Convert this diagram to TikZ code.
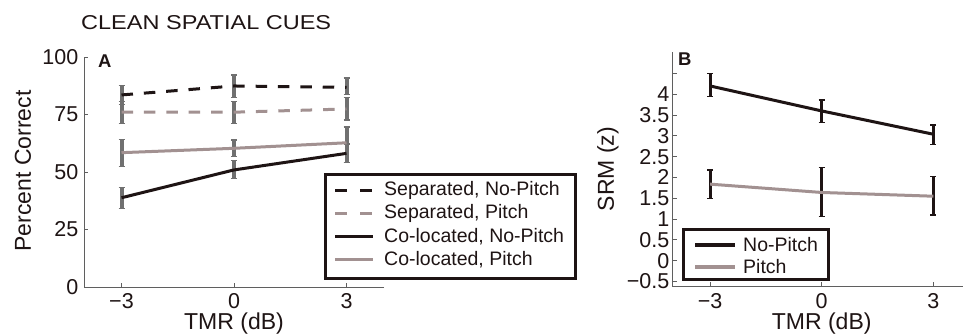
\documentclass[tikz,border=0pt]{standalone}
\usepackage{fontspec}
\usepackage{graphicx}
\setmainfont{Liberation Sans}
\definecolor{ink}{RGB}{30,20,20}
\definecolor{pgray}{RGB}{162,145,145}
\definecolor{egray}{RGB}{112,112,112}
\definecolor{axgray}{RGB}{95,95,95}
\newcommand\myebar[4]{%
  \draw[#1] (#2,#3) -- (#2,#4);
  \draw[#1,line width=1.4pt] ([xshift=-3pt]#2,#3) -- ([xshift=3pt]#2,#3);
  \draw[#1,line width=1.4pt] ([xshift=-3pt]#2,#4) -- ([xshift=3pt]#2,#4);
}
\tikzset{
  axisline/.style={draw=axgray, line width=0.9pt},
  tickmark/.style={draw=axgray, line width=0.9pt},
  ticklab/.style={font=\fontsize{21.5}{24}\selectfont, inner sep=0pt, text=ink},
  axlab/.style={font=\fontsize{23}{26}\selectfont, inner sep=0pt, text=ink},
  leglab/.style={font=\fontsize{19.5}{22}\selectfont, inner sep=0pt, anchor=west, text=ink},
  panlab/.style={inner sep=0pt, anchor=west, text=ink},
  dataline/.style={line width=3pt, line join=round},
  sepnp/.style={dataline, draw=ink, dash pattern=on 11.5pt off 10.9pt},
  sepp/.style={dataline, draw=pgray, dash pattern=on 11.5pt off 10.9pt},
  colnp/.style={dataline, draw=ink},
  colp/.style={dataline, draw=pgray},
  ebarA/.style={draw=egray, line width=4pt},
  ebarB/.style={draw=ink, line width=3.2pt},
  legbox/.style={draw=ink, line width=3pt},
  legsample/.style={line width=3.5pt},
}
\begin{document}
\begin{tikzpicture}[x=1pt,y=1pt]
\useasboundingbox (0,0) rectangle (963,336);
\fill[white] (0,0) rectangle (963,336);

\node[anchor=base west, inner sep=0pt, text=ink] (title) at (81,306)
  {\resizebox{250pt}{14pt}{\fontsize{20}{24}\selectfont CLEAN SPATIAL CUES}};

% ---------------- Panel A ----------------
\begin{scope}[shift={(234pt,49pt)}, x=37.5pt, y=2.3pt]
  \draw[axisline] (4,0) -- (-4,0) -- (-4,100);
  \foreach \v in {0,25,50,75,100} {
    \draw[tickmark] (-4,\v) -- ([xshift=4pt]-4,\v);
    \node[ticklab, anchor=east] (ya\v) at ([xshift=-5.5pt]-4,\v) {\v};
  }
  \foreach \u/\t in {-3/{−3},0/0,3/3} {
    \draw[tickmark] (\u,0) -- ([yshift=4pt]\u,0);
    \node[ticklab] (xa\u) at ([yshift=-14.5pt]\u,0) {\t};
  }
  \node[axlab, anchor=base] (xlabA) at ([yshift=-43pt]0,0) {TMR (dB)};
  \node[axlab, rotate=90] (ylabA) at ([xshift=-211pt]0,50.5) {Percent Correct};
  \node[panlab] (labA) at ([xshift=14pt]-4,98) {\resizebox{!}{12.7pt}{\bfseries A}};

  % error bars
  \myebar{ebarA}{-3}{79.3}{87.7}
  \myebar{ebarA}{0}{82.4}{92.2}
  \myebar{ebarA}{3}{83.6}{90.8}
  \myebar{ebarA}{-3}{71.2}{80.6}
  \myebar{ebarA}{0}{71.2}{80.6}
  \myebar{ebarA}{3}{72.6}{82.4}
  \myebar{ebarA}{-3}{52.4}{64.2}
  \myebar{ebarA}{0}{56.7}{63.9}
  \myebar{ebarA}{3}{54.0}{69.5}
  \myebar{ebarA}{-3}{34.2}{43.3}
  \myebar{ebarA}{0}{47.1}{55.0}
  \myebar{ebarA}{3}{54.0}{62.2}

  % data
  \draw[sepp]  (-3,76.0) coordinate (sp1) -- (0,76.0) coordinate (sp2) -- (3,77.4) coordinate (sp3);
  \draw[sepnp] (-3,83.5) coordinate (sn1) -- (0,87.4) coordinate (sn2) -- (3,86.8) coordinate (sn3);
  \draw[colp]  (-3,58.4) coordinate (cp1) -- (0,60.3) coordinate (cp2) -- (3,62.7) coordinate (cp3);
  \draw[colnp] (-3,38.8) coordinate (cn1) -- (0,50.9) coordinate (cn2) -- (3,58.1) coordinate (cn3);
\end{scope}

% legend A
\draw[legbox, fill=white] (325,161) rectangle (575.7,57.7);
\draw[legsample, draw=ink, dash pattern=on 12pt off 13pt] (335,145.3) -- (373,145.3);
\node[leglab] (lA1) at (384,145.3) {Separated, No-Pitch};
\draw[legsample, draw=pgray, dash pattern=on 12pt off 13pt] (335,122.7) -- (373,122.7);
\node[leglab] (lA2) at (384,122.7) {Separated, Pitch};
\draw[legsample, draw=ink] (335,99.3) -- (373,99.3);
\node[leglab] (lA3) at (384,99.3) {Co-located, No-Pitch};
\draw[legsample, draw=pgray] (335,76.7) -- (373,76.7);
\node[leglab] (lA4) at (384,76.7) {Co-located, Pitch};

% ---------------- Panel B ----------------
\begin{scope}[shift={(821.7pt,75.3pt)}, x=37.2pt, y=41.6pt]
  \draw[axisline] (3.81,-0.62) -- (-4,-0.62) -- (-4,5.02);
  \foreach \v/\t in {-0.5/{−0.5},0/0,0.5/0.5,1/1,1.5/1.5,2/2,2.5/2.5,3/3,3.5/3.5,4/4} {
    \draw[tickmark] (-4,\v) -- ([xshift=4pt]-4,\v);
    \node[ticklab, anchor=east] at ([xshift=-3.5pt]-4,\v) {\t};
  }
  \draw[tickmark] (-4,4.5) -- ([xshift=4pt]-4,4.5);
  \foreach \u/\t in {-3/{−3},0/0,3/3} {
    \draw[tickmark] (\u,-0.62) -- ([yshift=4pt]\u,-0.62);
    \node[ticklab] (xb\u) at ([yshift=-14.8pt]\u,-0.62) {\t};
  }
  \node[axlab, anchor=base] (xlabB) at ([yshift=-43.3pt]0,-0.62) {TMR (dB)};
  \node[axlab, rotate=90] (ylabB) at ([xshift=-213.7pt]0,2.2) {SRM (z)};
  \node[panlab] (labB) at ([xshift=5pt]-4,4.85) {\resizebox{!}{12.7pt}{\bfseries B}};

  \myebar{ebarB}{-3}{3.94}{4.50}
  \myebar{ebarB}{0}{3.32}{3.86}
  \myebar{ebarB}{3}{2.80}{3.26}
  \myebar{ebarB}{-3}{1.50}{2.18}
  \myebar{ebarB}{0}{1.06}{2.24}
  \myebar{ebarB}{3}{1.10}{2.02}

  \draw[colp]  (-3,1.84) coordinate (bp1) -- (0,1.64) coordinate (bp2) -- (3,1.55) coordinate (bp3);
  \draw[colnp] (-3,4.20) coordinate (bn1) -- (0,3.60) coordinate (bn2) -- (3,3.04) coordinate (bn3);
\end{scope}

% legend B
\draw[legbox, fill=white] (683,106) rectangle (828,56.7);
\draw[legsample, draw=ink] (695,91) -- (735,91);
\node[leglab] (lB1) at (743,91) {No-Pitch};
\draw[legsample, draw=pgray] (695,69) -- (735,69);
\node[leglab] (lB2) at (743,69) {Pitch};
\end{tikzpicture}
\end{document}
